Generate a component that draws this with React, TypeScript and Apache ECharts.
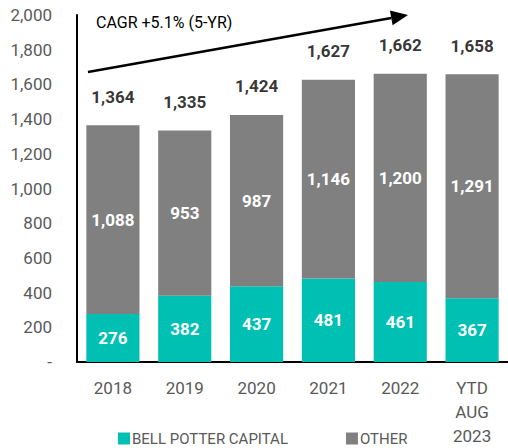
import React, { useEffect, useRef } from "react";
import * as echarts from "echarts";

const categories = ["2018", "2019", "2020", "2021", "2022", "YTD\nAUG\n2023"];
const bellPotter = [276, 382, 437, 481, 461, 367];
const other = [1088, 953, 987, 1146, 1200, 1291];
const totals = [1364, 1335, 1424, 1627, 1662, 1658];

const TEAL = "#00BFB3";
const GRAY = "#808080";
const FONT = "Roboto";

const fmt = (v: number) => v.toLocaleString("en-US");

export default function App() {
  const ref = useRef<HTMLDivElement>(null);
  useEffect(() => {
    if (!ref.current) return;
    const chart = echarts.init(ref.current, undefined, { renderer: "svg" });
    const tip = [408, 15];
    const start = [88, 72];
    const dx = tip[0] - start[0];
    const dy = tip[1] - start[1];
    const len = Math.sqrt(dx * dx + dy * dy);
    const ux = dx / len, uy = dy / len;
    const nx = -uy, ny = ux;
    const hl = 17, hw = 7.5;
    const bx = tip[0] - hl * ux, by = tip[1] - hl * uy;
    chart.setOption({
      animation: false,
      textStyle: { fontFamily: FONT },
      grid: { left: 77, top: 15, bottom: 82, width: 438 },
      legend: {
        data: ["BELL POTTER CAPITAL", "OTHER"],
        left: 118,
        top: 431,
        padding: 0,
        icon: "rect",
        itemWidth: 12,
        itemHeight: 12,
        itemGap: 58,
        textStyle: { fontFamily: FONT, fontSize: 15, lineHeight: 14, color: "#595959", padding: [0, 0, 0, -3] },
      },
      xAxis: {
        type: "category",
        data: categories,
        axisLine: { lineStyle: { color: "#000", width: 2 } },
        axisTick: { show: false },
        axisLabel: { color: "#595959", fontSize: 17, fontFamily: FONT, lineHeight: 24, margin: 14, interval: 0 },
      },
      yAxis: {
        type: "value",
        min: 0,
        max: 2000,
        interval: 200,
        splitLine: { show: false },
        axisLine: { show: true, lineStyle: { color: "#000", width: 2 } },
        axisTick: { show: false },
        axisLabel: {
          color: "#595959",
          fontSize: 17,
          fontFamily: FONT,
          margin: 25,
          formatter: (v: number) => (v === 0 ? "-" : fmt(v)),
          rich: {},
        },
      },
      series: [
        {
          name: "BELL POTTER CAPITAL",
          type: "bar",
          stack: "s",
          data: bellPotter,
          barCategoryGap: "26%",
          itemStyle: { color: TEAL },
          label: {
            show: true,
            position: "inside",
            color: "#fff",
            fontWeight: "bold",
            fontSize: 17,
            fontFamily: FONT,
            formatter: (p: any) => fmt(p.value),
          },
        },
        {
          name: "OTHER",
          type: "bar",
          stack: "s",
          data: other,
          itemStyle: { color: GRAY },
          label: {
            show: true,
            position: "inside",
            color: "#fff",
            fontWeight: "bold",
            fontSize: 17,
            fontFamily: FONT,
            formatter: (p: any) => fmt(p.value),
          },
        },
        {
          name: "TOTAL",
          type: "scatter",
          data: totals,
          symbolSize: 0,
          silent: true,
          label: {
            show: true,
            position: "top",
            distance: 20,
            color: "#000",
            fontWeight: "bold",
            fontSize: 17,
            fontFamily: FONT,
            formatter: (p: any) => fmt(p.value),
          },
        },
      ],
      graphic: [
        {
          type: "line",
          shape: { x1: start[0], y1: start[1], x2: bx, y2: by },
          style: { stroke: "#000", lineWidth: 2.5 },
        },
        {
          type: "polygon",
          shape: {
            points: [
              [tip[0], tip[1]],
              [bx + hw * nx, by + hw * ny],
              [bx - hw * nx, by - hw * ny],
            ],
          },
          style: { fill: "#000" },
        },
        {
          type: "text",
          left: 96,
          top: 14,
          style: { text: "CAGR +5.1% (5-YR)", fontSize: 16, fontFamily: FONT, fill: "#000" },
        },
      ],
    });
    return () => chart.dispose();
  }, []);
  return <div ref={ref} style={{ width: 508, height: 448, position: "absolute", left: 0, top: 0 }} />;
}
